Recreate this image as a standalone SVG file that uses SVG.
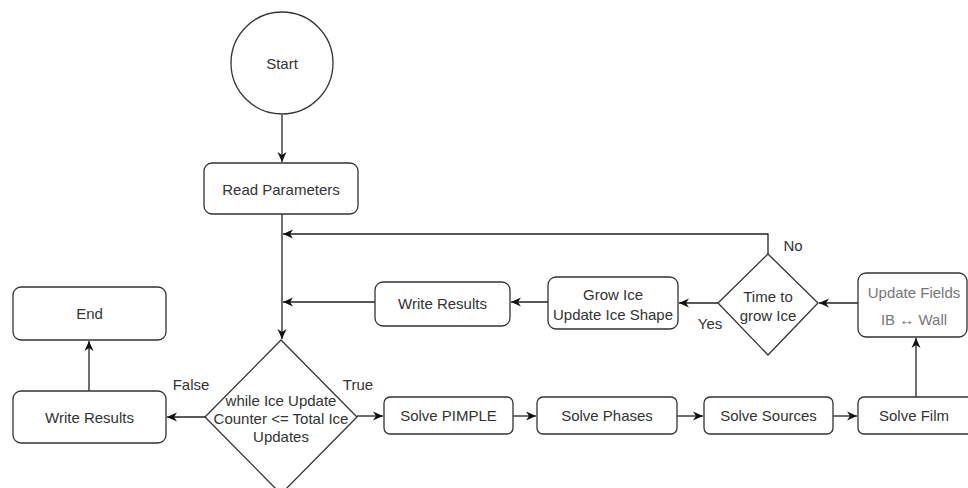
<svg xmlns="http://www.w3.org/2000/svg" width="968" height="488" viewBox="0 0 968 488">
<defs>
<marker id="arr" markerWidth="12" markerHeight="10" refX="10" refY="5" orient="auto" markerUnits="userSpaceOnUse">
<path d="M0,0.5 L10,5 L0,9.5 L3,5 Z" fill="#111"/>
</marker>
<style>
.box{fill:#fff;stroke:#333;stroke-width:1.3}
.t{font-family:"Liberation Sans",Arial,sans-serif;font-size:15px;fill:#333;text-anchor:middle;dominant-baseline:central}
.g{fill:#777}
.lbl{font-family:"Liberation Sans",Arial,sans-serif;font-size:15px;fill:#333;text-anchor:middle;dominant-baseline:central}
.c{fill:none;stroke:#222;stroke-width:1.3}
</style>
</defs>
<rect width="968" height="488" fill="#fff"/>
<g id="connectors">
<path class="c" d="M282,115 L282,162" marker-end="url(#arr)"/>
<path class="c" d="M282,214 L282,339" marker-end="url(#arr)"/>
<path class="c" d="M768,254 L768,234 L283,234" marker-end="url(#arr)"/>
<path class="c" d="M375,302 L283,302" marker-end="url(#arr)"/>
<path class="c" d="M548,302 L511,302" marker-end="url(#arr)"/>
<path class="c" d="M718,303 L679,303" marker-end="url(#arr)"/>
<path class="c" d="M858,303 L819,303" marker-end="url(#arr)"/>
<path class="c" d="M916,397 L916,338" marker-end="url(#arr)"/>
<path class="c" d="M205,417 L167,417" marker-end="url(#arr)"/>
<path class="c" d="M89,391 L89,341" marker-end="url(#arr)"/>
<path class="c" d="M357,416 L383,416" marker-end="url(#arr)"/>
<path class="c" d="M513,416 L536,416" marker-end="url(#arr)"/>
<path class="c" d="M677,416 L703,416" marker-end="url(#arr)"/>
<path class="c" d="M833,416 L857,416" marker-end="url(#arr)"/>
</g>
<g id="start">
<circle class="box" cx="282" cy="63" r="51"/>
<text class="t" x="282" y="63">Start</text>
</g>
<g id="read-parameters">
<rect class="box" x="204" y="163" width="154" height="51" rx="8"/>
<text class="t" x="281" y="189">Read Parameters</text>
</g>
<g id="while-loop">
<polygon class="box" points="281,340 357,417 281,494 205,417"/>
<text class="t" x="281" y="400">while Ice Update</text>
<text class="t" x="281" y="418">Counter &lt;= Total Ice</text>
<text class="t" x="281" y="436">Updates</text>
</g>
<g id="write-results-final">
<rect class="box" x="13" y="391" width="153" height="52" rx="8"/>
<text class="t" x="89.5" y="417">Write Results</text>
</g>
<g id="end">
<rect class="box" x="13" y="287" width="153" height="53" rx="8"/>
<text class="t" x="89.5" y="313">End</text>
</g>
<g id="solve-pimple">
<rect class="box" x="384" y="397" width="129" height="37" rx="6"/>
<text class="t" x="448.5" y="415.5">Solve PIMPLE</text>
</g>
<g id="solve-phases">
<rect class="box" x="537" y="397" width="140" height="37" rx="6"/>
<text class="t" x="607" y="415.5">Solve Phases</text>
</g>
<g id="solve-sources">
<rect class="box" x="704" y="397" width="129" height="37" rx="6"/>
<text class="t" x="768.5" y="415.5">Solve Sources</text>
</g>
<g id="solve-film">
<rect class="box" x="858" y="397" width="116" height="37" rx="6"/>
<text class="t" x="914" y="415">Solve Film</text>
</g>
<g id="update-fields">
<rect class="box" x="858" y="273" width="109" height="64" rx="8"/>
<text class="t g" x="914" y="292">Update Fields</text>
<text class="t g" x="914" y="319">IB ↔ Wall</text>
</g>
<g id="time-to-grow">
<polygon class="box" points="768,254 818,303 768,355 718,303"/>
<text class="t" x="768" y="296">Time to</text>
<text class="t" x="768" y="315">grow Ice</text>
</g>
<g id="grow-ice">
<rect class="box" x="548" y="277" width="130" height="52" rx="8"/>
<text class="t" x="613" y="294">Grow Ice</text>
<text class="t" x="613" y="314">Update Ice Shape</text>
</g>
<g id="write-results">
<rect class="box" x="375" y="282" width="135" height="44" rx="8"/>
<text class="t" x="442.5" y="303">Write Results</text>
</g>
<g id="labels">
<text class="lbl" x="191" y="384">False</text>
<text class="lbl" x="358" y="384">True</text>
<text class="lbl" x="793" y="245">No</text>
<text class="lbl" x="710" y="323">Yes</text>
</g>
</svg>
